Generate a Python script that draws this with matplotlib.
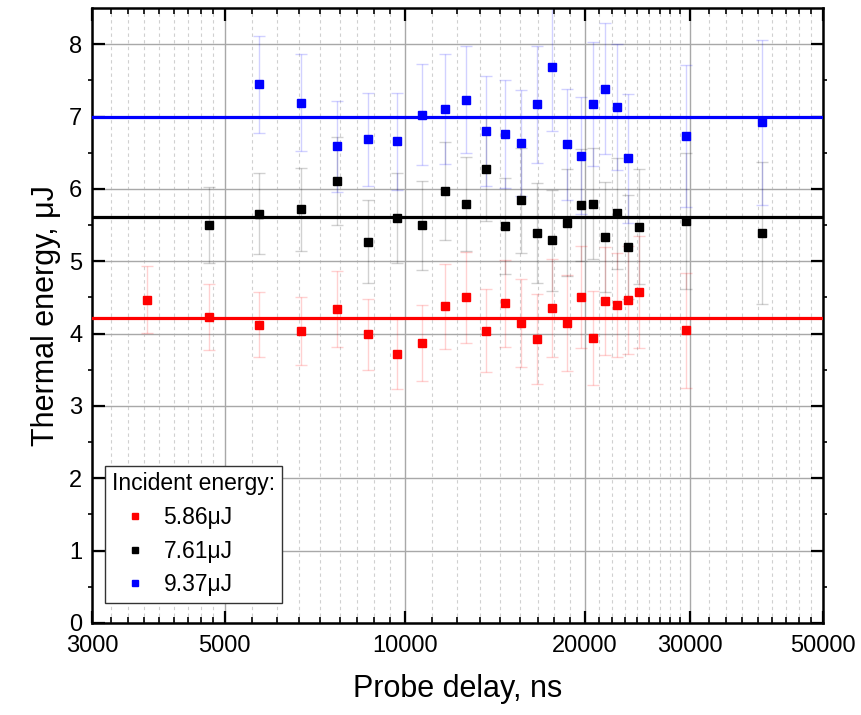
import numpy as np
import matplotlib
matplotlib.use('Agg')
import matplotlib.pyplot as plt
from matplotlib.ticker import FixedLocator, FixedFormatter, NullFormatter

plt.rcParams['font.family'] = ['Liberation Sans', 'DejaVu Sans']

# probe delays (ns)
x_red = [3710, 4708, 5703, 6700, 7693, 8688, 9685, 10674, 11677, 12656, 13665, 14680,
         15646, 16654, 17645, 18646, 19671, 20600, 21598, 22616, 23622, 24606, 29549]
x_black = [4708, 5703, 6700, 7693, 8688, 9685, 10674, 11677, 12656, 13665, 14680,
           15646, 16654, 17645, 18646, 19671, 20600, 21598, 22616, 23622, 24606, 29549, 39500]
x_blue = [5703, 6700, 7693, 8688, 9685, 10674, 11677, 12656, 13665, 14680,
          15646, 16654, 17645, 18646, 19671, 20600, 21598, 22616, 23622, 29549, 39500]

# thermal energy (uJ) and errors
y_red = [4.47, 4.23, 4.12, 4.03, 4.34, 3.99, 3.72, 3.87, 4.375, 4.50, 4.04, 4.42,
         4.145, 3.93, 4.357, 4.145, 4.505, 3.94, 4.45, 4.40, 4.467, 4.575, 4.043]
e_red = [0.46, 0.46, 0.45, 0.47, 0.52, 0.49, 0.48, 0.52, 0.59, 0.63, 0.57, 0.60,
         0.61, 0.62, 0.68, 0.66, 0.70, 0.645, 0.75, 0.72, 0.75, 0.77, 0.80]
y_black = [5.50, 5.657, 5.717, 6.113, 5.27, 5.597, 5.495, 5.97, 5.795, 6.27, 5.49,
           5.84, 5.39, 5.29, 5.53, 5.78, 5.795, 5.335, 5.66, 5.20, 5.48, 5.56, 5.39]
e_black = [0.53, 0.56, 0.57, 0.61, 0.57, 0.62, 0.61, 0.68, 0.65, 0.72, 0.66,
           0.72, 0.69, 0.70, 0.74, 0.77, 0.77, 0.755, 0.77, 0.72, 0.80, 0.94, 0.98]
y_blue = [7.446, 7.19, 6.59, 6.685, 6.657, 7.026, 7.11, 7.234, 6.805, 6.76,
          6.635, 7.17, 7.68, 6.615, 6.46, 7.17, 7.386, 7.13, 6.42, 6.73, 6.92]
e_blue = [0.67, 0.67, 0.63, 0.645, 0.67, 0.70, 0.76, 0.74, 0.76, 0.75,
          0.73, 0.81, 0.88, 0.77, 0.81, 0.86, 0.91, 0.87, 0.89, 0.98, 1.14]

# mean levels
means = [4.214, 5.606, 7.0]
labels = ['5.86\u03bcJ', '7.61\u03bcJ', '9.37\u03bcJ']
colors = ['#ff0000', '#000000', '#0000ff']

x_major = [3000, 5000, 10000, 20000, 30000, 50000]

fig = plt.figure(figsize=(8.62, 7.15), dpi=100)
ax = fig.add_axes([0.1067, 0.1287, 0.8481, 0.8601])

series = [(x_red, y_red, e_red), (x_black, y_black, e_black), (x_blue, y_blue, e_blue)]
for (xs, ys, es), c, lab, m in zip(series, colors, labels, means):
    ax.errorbar(xs, ys, yerr=es, fmt='none', ecolor=c, alpha=0.18,
                elinewidth=1, capsize=4, capthick=1, zorder=2)
    ax.plot(xs, ys, 's', color=c, ms=5.5, label=lab, zorder=4)
    ax.axhline(m, color=c, lw=2.3, zorder=3)

ax.set_xscale('log')
ax.set_xlim(3000, 50000)
ax.set_ylim(0, 8.5)

# 8 evenly spaced minor ticks between majors
minors = []
for a, b in zip(x_major[:-1], x_major[1:]):
    minors += [a + (b - a) * k / 9 for k in range(1, 9)]
ax.xaxis.set_major_locator(FixedLocator(x_major))
ax.xaxis.set_minor_locator(FixedLocator(minors))
ax.xaxis.set_major_formatter(FixedFormatter([str(v) for v in x_major]))
ax.xaxis.set_minor_formatter(NullFormatter())
ax.set_yticks(range(0, 9))
ax.set_yticks(np.arange(0.5, 8.5, 1), minor=True)

ax.grid(True, which='major', color='#a8a8a8', lw=1.0, zorder=0)
ax.grid(True, which='minor', axis='x', color='#d0d0d0', lw=0.8, ls=(0, (3, 3)), zorder=0)
ax.set_axisbelow(True)

ax.tick_params(which='both', direction='in', top=True, right=True, labelsize=17)
ax.tick_params(axis='x', which='major', pad=9)
ax.tick_params(axis='y', which='major', pad=7)
ax.tick_params(which='major', length=9, width=1.6)
ax.tick_params(axis='x', which='minor', length=4.5, width=1.2)
ax.tick_params(axis='y', which='minor', direction='out', length=3, width=1.2)
for s in ax.spines.values():
    s.set_linewidth(1.8)

ax.set_xlabel('Probe delay, ns', fontsize=22, labelpad=12)
ax.set_ylabel('Thermal energy, \u03bcJ', fontsize=22, labelpad=6)

leg = ax.legend(title='Incident energy:', loc='lower left', bbox_to_anchor=(0.018, 0.0325),
                borderaxespad=0, fontsize=16.5, title_fontsize=16.5, fancybox=False,
                edgecolor='#333333', framealpha=1, markerscale=0.7, handletextpad=0.25,
                handlelength=2.0, alignment='left', labelspacing=0.45, borderpad=0.3)
leg.get_frame().set_linewidth(1.0)
leg._legend_box.sep = 8

plt.savefig('out.png', dpi=100)
